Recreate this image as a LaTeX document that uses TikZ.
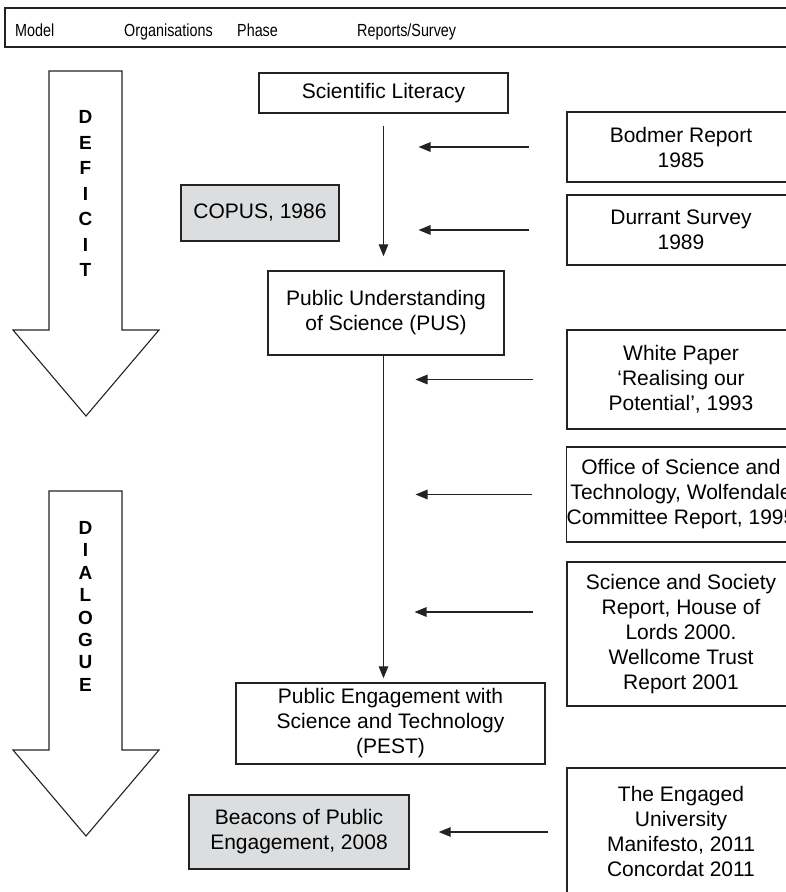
\documentclass[tikz,border=0pt]{standalone}
\usepackage{fontspec}
\setmainfont{Liberation Sans}
\newfontfamily\hdrfont[FakeStretch=0.82]{Liberation Sans}
\usetikzlibrary{arrows.meta,calc}
\definecolor{boxgray}{RGB}{220,221,223}
\definecolor{ln}{RGB}{35,35,35}
\tikzset{
  box/.style={draw=ln, line width=1.4pt, inner sep=0pt, align=center,
    font=\fontsize{21}{25}\selectfont},
  orgbox/.style={box, fill=boxgray},
  hdr/.style={anchor=base west, inner sep=0pt, font=\hdrfont\fontsize{17.5}{19}\selectfont},
  letter/.style={inner sep=0pt, font=\bfseries\fontsize{19}{20}\selectfont},
  bigarrow/.style={draw=ln, line width=1.1pt, fill=white},
  arr/.style={draw=ln, line width=1.3pt, -{Triangle[length=12pt,width=9.5pt]}}
}
\begin{document}
\begin{tikzpicture}[x=1pt,y=-1pt]
\useasboundingbox (0,0) rectangle (786,892);
\clip (0,0) rectangle (786,892);
\fill[white] (0,0) rectangle (786,892);
% header
\draw[draw=ln, line width=1.4pt] (5,8) rectangle (800,47);
\node[hdr] (hmodel) at (15,36) {Model};
\node[hdr] (horg) at (124,36) {Organisations};
\node[hdr] (hphase) at (237,36) {Phase};
\node[hdr] (hrep) at (357,36) {Reports/Survey};
% big arrows
\draw[bigarrow] (49,71) -- (122,71) -- (122,330) -- (159,330) -- (86,416) -- (13,330) -- (49,330) -- cycle;
\draw[bigarrow] (49,491) -- (122,491) -- (122,750) -- (159,750) -- (86,836) -- (13,750) -- (49,750) -- cycle;
\foreach \l [count=\i] in {D,E,F,I,C,I,T}
  \node[letter] (def\i) at (85.5,{117+25.5*(\i-1)}) {\l};
\foreach \l [count=\i] in {D,I,A,L,O,G,U,E}
  \node[letter] (dia\i) at (85.5,{528+22.4*(\i-1)}) {\l};
% phase boxes
\node[box, minimum width=249, minimum height=40] (sl) at (383.5,93) {Scientific Literacy};
\node[box, minimum width=236, minimum height=84] (pus) at (386,313) {Public Understanding\\of Science (PUS)};
\node[box, minimum width=309, minimum height=81] (pest) at (390.5,723.5) {Public Engagement with\\Science and Technology\\(PEST)};
% organisations
\node[orgbox, minimum width=158, minimum height=56] (copus) at (260,213) {COPUS, 1986};
\node[orgbox, minimum width=220, minimum height=74] (beacons) at (299,832) {Beacons of Public\\Engagement, 2008};
% reports
\node[box, minimum width=228, minimum height=70] (bodmer) at (681,147) {Bodmer Report\\1985};
\node[box, minimum width=228, minimum height=70] (durrant) at (681,230) {Durrant Survey\\1989};
\node[box, minimum width=228, minimum height=99] (white) at (681,379.5) {White Paper\\‘Realising our\\Potential’, 1993};
\node[box, minimum width=228, minimum height=95] (office) at (681,494.5) {Office of Science and\\Technology, Wolfendale\\Committee Report, 1995};
\node[box, minimum width=228, minimum height=144] (sas) at (681,634) {Science and Society\\Report, House of\\Lords 2000.\\Wellcome Trust\\Report 2001};
\node[box, minimum width=228, minimum height=127] (eng) at (681,831.5) {The Engaged\\University\\Manifesto, 2011\\Concordat 2011};
% vertical arrows
\draw[arr, shorten <=12pt, shorten >=14pt] (sl.south) -- (sl.south |- pus.north);
\draw[arr, shorten >=4pt] (sl.south |- pus.south) -- (sl.south |- pest.north);
% horizontal arrows
\draw[arr, shorten <=37pt, shorten >=35pt] (bodmer.west) -- (bodmer.west -| sl.south);
\draw[arr, shorten <=37pt, shorten >=35pt] (durrant.west) -- (durrant.west -| sl.south);
\draw[arr, shorten <=33pt, shorten >=32pt] (white.west) -- (white.west -| sl.south);
\draw[arr, shorten <=34pt, shorten >=32pt] (office.west) -- (office.west -| sl.south);
\draw[arr, shorten <=33pt, shorten >=31pt] ([yshift=22pt]sas.west) -- ([yshift=22pt]sas.west -| sl.south);
\draw[arr, shorten <=18pt, shorten >=29pt] (eng.west |- beacons.east) -- (beacons.east);
\end{tikzpicture}
\end{document}
